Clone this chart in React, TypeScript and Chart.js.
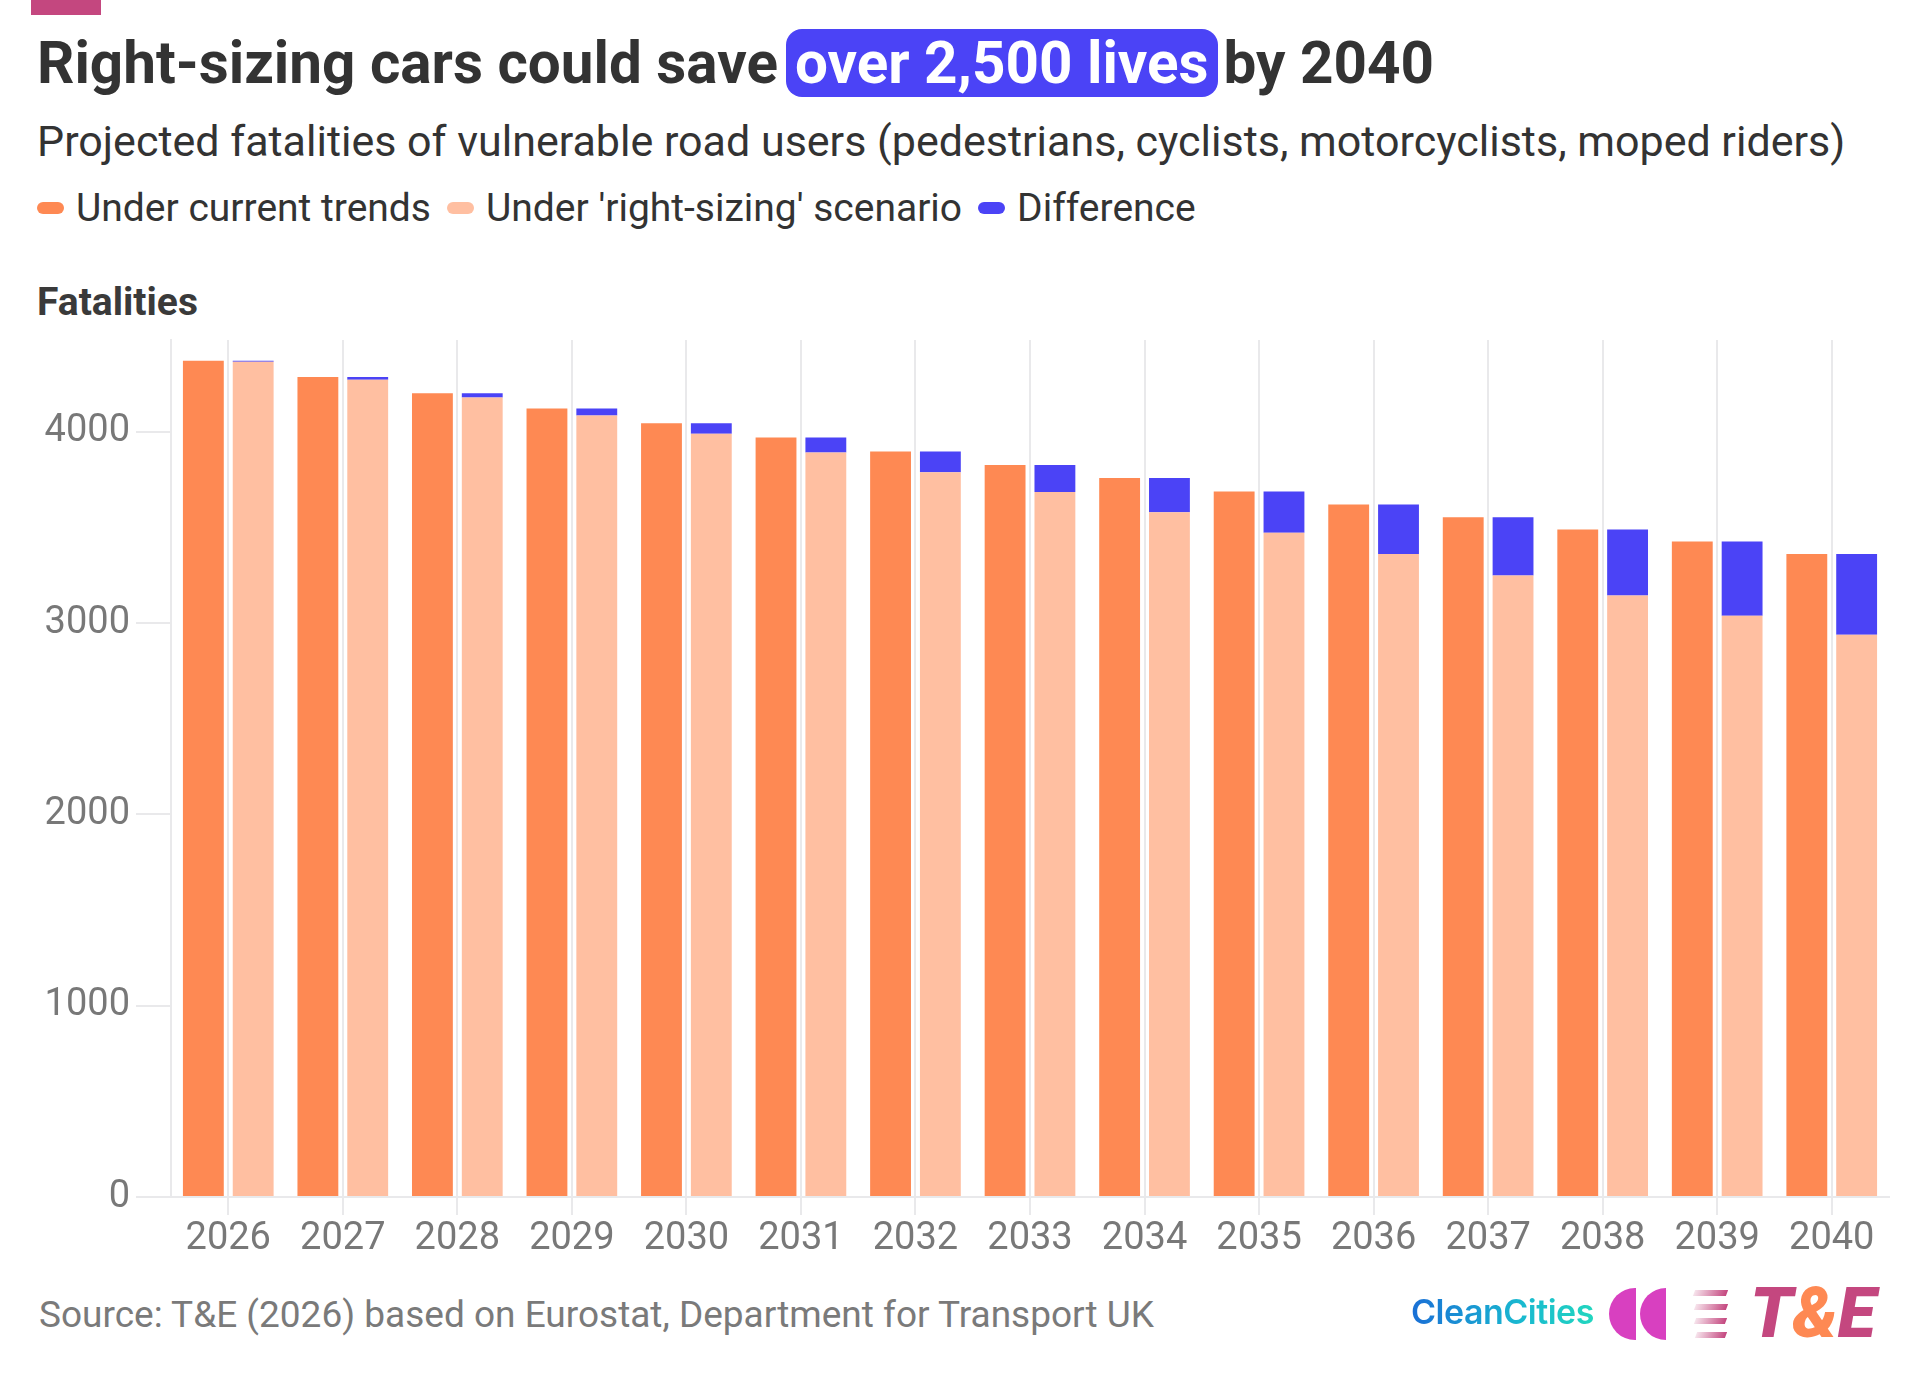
import React, { useEffect, useRef } from "react";
import { Chart, registerables } from "chart.js";

Chart.register(...registerables);

const years = ["2026", "2027", "2028", "2029", "2030", "2031", "2032", "2033", "2034", "2035", "2036", "2037", "2038", "2039", "2040"];
const currentTrends = [4371, 4286, 4202, 4122, 4045, 3970, 3897, 3826, 3758, 3688, 3620, 3554, 3489, 3426, 3361];
const rightSizing = [4366, 4272, 4179, 4085, 3990, 3892, 3789, 3686, 3580, 3472, 3361, 3249, 3144, 3039, 2939];
const difference = [5, 14, 23, 37, 55, 78, 108, 140, 178, 216, 259, 305, 345, 387, 422];
const yTicks = [0, 1000, 2000, 3000, 4000];

const ORANGE = "#fe8953";
const LIGHT = "#ffbfa1";
const BLUE = "#4b43f6";
const ROSE = "#c4477f";
const GRID = "#e9e9eb";
const TICK_TEXT = "#787878";
const FONT = "Roboto, 'Noto Sans', sans-serif";

const legendItems = [
  { label: "Under current trends", color: ORANGE },
  { label: "Under 'right-sizing' scenario", color: LIGHT },
  { label: "Difference", color: BLUE },
];

function BarChart() {
  const ref = useRef<HTMLCanvasElement | null>(null);
  useEffect(() => {
    if (!ref.current) return;
    const chart = new Chart(ref.current, {
      type: "bar",
      data: {
        labels: years,
        datasets: [
          { label: legendItems[0].label, data: currentTrends, backgroundColor: ORANGE, stack: "current", borderWidth: 0 },
          { label: legendItems[1].label, data: rightSizing, backgroundColor: LIGHT, stack: "scenario", borderWidth: 0 },
          { label: legendItems[2].label, data: difference, backgroundColor: BLUE, stack: "scenario", borderWidth: 0 },
        ],
      },
      options: {
        responsive: false,
        animation: false,
        events: [],
        layout: { padding: { top: 40, right: 31, left: 0, bottom: 0 } },
        datasets: { bar: { categoryPercentage: 0.87, barPercentage: 0.82 } },
        plugins: { legend: { display: false }, tooltip: { enabled: false }, title: { display: false } },
        scales: {
          x: {
            stacked: true,
            grid: { offset: false, color: GRID, lineWidth: 2, tickLength: 18, drawOnChartArea: true, drawTicks: true },
            border: { display: true, color: GRID, width: 2 },
            ticks: { color: TICK_TEXT, font: { family: FONT, size: 38 }, padding: 2, maxRotation: 0, autoSkip: false },
            afterFit: (s: any) => {
              s.height = 63;
            },
          },
          y: {
            stacked: true,
            min: 0,
            max: 4480,
            afterBuildTicks: (s: any) => {
              s.ticks = yTicks.map((v) => ({ value: v }));
            },
            ticks: {
              color: TICK_TEXT,
              font: { family: FONT, size: 38 },
              padding: 6,
              includeBounds: false,
              callback: (v: any) => String(v),
            },
            grid: { drawOnChartArea: false, drawTicks: true, tickLength: 35, color: GRID, lineWidth: 2 },
            border: { display: true, color: GRID, width: 2 },
            afterFit: (s: any) => {
              s.width = 171;
            },
          },
        },
      },
    });
    return () => chart.destroy();
  }, []);
  return (
    <canvas
      ref={ref}
      width={1920}
      height={960}
      style={{ position: "absolute", left: 0, top: 300, width: 1920, height: 960 }}
    />
  );
}

export default function App() {
  return (
    <div
      style={{
        position: "absolute",
        left: 0,
        top: 0,
        width: 1920,
        height: 1376,
        background: "#ffffff",
        overflow: "hidden",
        fontFamily: FONT,
      }}
    >
      <div style={{ position: "absolute", left: 31, top: 0, width: 70, height: 15, background: ROSE }} />

      <div
        style={{
          position: "absolute",
          left: 37,
          top: 29,
          lineHeight: "68px",
          fontSize: 58.4,
          fontWeight: 700,
          color: "#333333",
          whiteSpace: "nowrap",
        }}
      >
        <span>Right-sizing cars could save</span>
        <span
          style={{
            display: "inline-block",
            marginLeft: 8,
            padding: "0 9px",
            height: 68,
            background: BLUE,
            color: "#ffffff",
            borderRadius: 16,
          }}
        >
          over 2,500 lives
        </span>
        <span style={{ marginLeft: 6 }}>by 2040</span>
      </div>

      <div
        style={{
          position: "absolute",
          left: 37,
          top: 120,
          lineHeight: "43px",
          fontSize: 43,
          color: "#333333",
          whiteSpace: "nowrap",
        }}
      >
        Projected fatalities of vulnerable road users (pedestrians, cyclists, motorcyclists, moped riders)
      </div>

      <div
        style={{
          position: "absolute",
          left: 37,
          top: 189,
          height: 38,
          display: "flex",
          alignItems: "center",
          fontSize: 39,
          lineHeight: "38px",
          color: "#333333",
          whiteSpace: "nowrap",
        }}
      >
        {legendItems.map((it) => (
          <div key={it.label} style={{ display: "flex", alignItems: "center", marginRight: 16 }}>
            <div style={{ width: 27, height: 12, borderRadius: 6, background: it.color, marginRight: 12 }} />
            <span>{it.label}</span>
          </div>
        ))}
      </div>

      <div
        style={{
          position: "absolute",
          left: 37,
          top: 283,
          fontSize: 39,
          lineHeight: "39px",
          fontWeight: 700,
          color: "#3a3a3a",
        }}
      >
        Fatalities
      </div>

      <BarChart />

      <div
        style={{
          position: "absolute",
          left: 39,
          top: 1296,
          fontSize: 37,
          lineHeight: "37px",
          color: "#7a7a7a",
          whiteSpace: "nowrap",
        }}
      >
        Source: T&amp;E (2026) based on Eurostat, Department for Transport UK
      </div>

      <div
        style={{
          position: "absolute",
          left: 1411,
          top: 1293,
          fontSize: 34,
          lineHeight: "38px",
          fontWeight: 600,
          fontFamily: "Inter, 'Open Sans', sans-serif",
          letterSpacing: -0.5,
          background: "linear-gradient(90deg, #1a6fd6 0%, #19b9d0 60%, #22d6bf 100%)",
          WebkitBackgroundClip: "text",
          backgroundClip: "text",
          color: "transparent",
          whiteSpace: "nowrap",
        }}
      >
        CleanCities
      </div>

      <div style={{ position: "absolute", left: 1609, top: 1288, width: 27, height: 52, borderRadius: "26px 0 0 26px", background: "#d840c0" }} />
      <div style={{ position: "absolute", left: 1640, top: 1288, width: 26, height: 52, borderRadius: "26px 0 0 26px", background: "#d840c0" }} />

      {[0, 1, 2, 3].map((i) => (
        <div
          key={i}
          style={{
            position: "absolute",
            left: 1694 + i * 0.5,
            top: 1290 + i * 14,
            width: 33 - i,
            height: 6,
            background: `linear-gradient(90deg, rgba(196,71,127,0.15), ${ROSE})`,
            transform: "skewX(-20deg)",
          }}
        />
      ))}

      <div
        style={{
          position: "absolute",
          left: 1750,
          top: 1277,
          fontSize: 70,
          lineHeight: "72px",
          fontWeight: 900,
          fontStyle: "italic",
          color: ROSE,
          whiteSpace: "nowrap",
          letterSpacing: -0.5,
        }}
      >
        T<span style={{ color: ORANGE }}>&amp;</span>E
      </div>
    </div>
  );
}
